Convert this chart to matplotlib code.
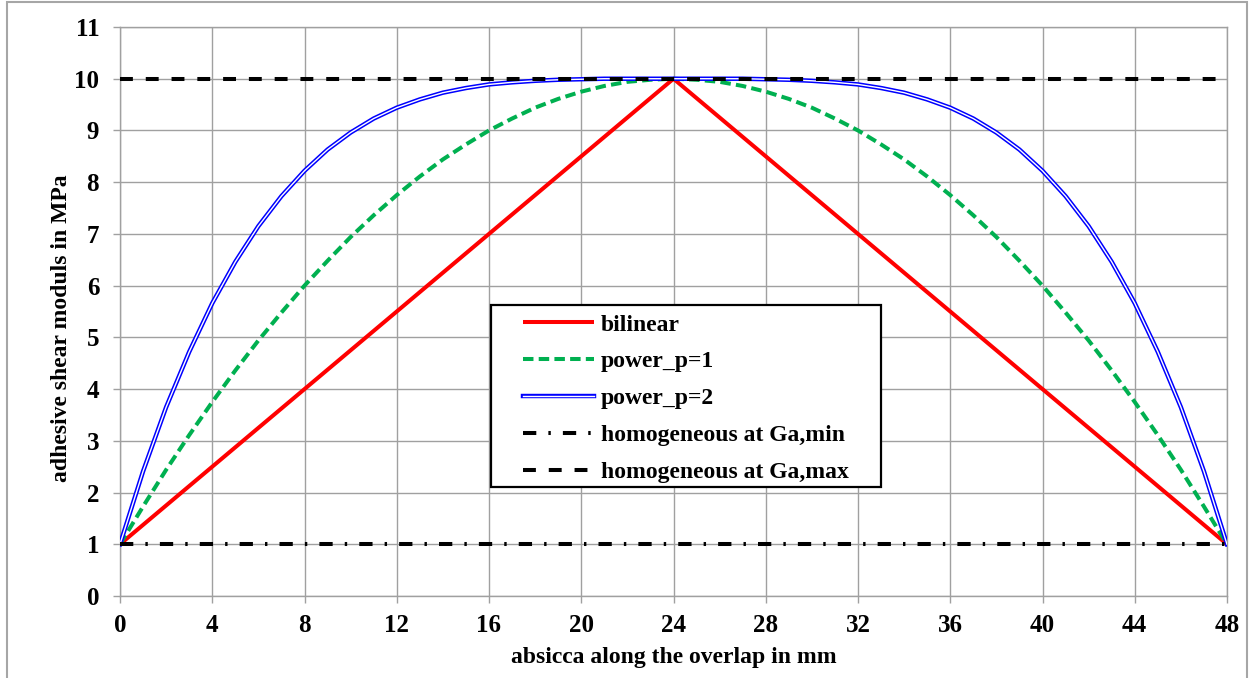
import matplotlib
matplotlib.use("Agg")
import matplotlib.pyplot as plt
import matplotlib.patheffects as pe
from matplotlib.patches import Rectangle

# Overlap coordinate (mm) and adhesive shear modulus values (MPa)
x_mm = list(range(0, 49))

bilinear_x = [0, 24, 48]
bilinear_g = [1.0, 10.0, 1.0]

power_p1 = [1.00, 1.73, 2.44, 3.11, 3.75, 4.36, 4.94, 5.48, 6.00, 6.48, 6.94, 7.36,
            7.75, 8.11, 8.44, 8.73, 9.00, 9.23, 9.44, 9.61, 9.75, 9.86, 9.94, 9.98,
            10.00,
            9.98, 9.94, 9.86, 9.75, 9.61, 9.44, 9.23, 9.00, 8.73, 8.44, 8.11, 7.75,
            7.36, 6.94, 6.48, 6.00, 5.48, 4.94, 4.36, 3.75, 3.11, 2.44, 1.73, 1.00]

power_p2 = [1.00, 2.41, 3.65, 4.72, 5.66, 6.46, 7.15, 7.73, 8.22, 8.63, 8.96, 9.23,
            9.44, 9.60, 9.73, 9.82, 9.89, 9.93, 9.96, 9.98, 9.99, 10.00, 10.00, 10.00,
            10.00,
            10.00, 10.00, 10.00, 9.99, 9.98, 9.96, 9.93, 9.89, 9.82, 9.73, 9.60, 9.44,
            9.23, 8.96, 8.63, 8.22, 7.73, 7.15, 6.46, 5.66, 4.72, 3.65, 2.41, 1.00]

homog_x = [0, 48]
homog_min = [1.0, 1.0]
homog_max = [10.0, 10.0]

x_ticks = list(range(0, 49, 4))
y_ticks = list(range(0, 12))

serif = ["Liberation Serif", "DejaVu Serif"]
plt.rcParams["font.family"] = serif
plt.rcParams["font.weight"] = "bold"

W, H = 1253, 678
fig = plt.figure(figsize=(W / 100, H / 100), dpi=100)

# outer chart border
fig.patches.append(Rectangle((7 / W, -0.01), 1240 / W, 1.01 - 2 / H,
                             transform=fig.transFigure, fill=False,
                             edgecolor="#a6a6a6", linewidth=1.5))

ax = fig.add_axes([120 / W, 1 - 596 / H, 1107 / W, 569 / H])

ax.plot(bilinear_x, bilinear_g, color="#ff0000", linewidth=2.9,
        solid_capstyle="butt", label="bilinear", zorder=3)
ax.plot(x_mm, power_p1, color="#00b050", linewidth=2.9,
        dashes=(2.6, 1.3), label="power_p=1", zorder=4)
ax.plot(x_mm, power_p2, color="white", linewidth=1.0, label="power_p=2", zorder=5,
        path_effects=[pe.Stroke(linewidth=3.2, foreground="#0000ff"), pe.Normal()])
ax.plot(homog_x, homog_min, color="black", linewidth=2.9,
        dashes=(3.3, 3.0, 0.6, 3.0), label="homogeneous at Ga,min", zorder=6)
ax.plot(homog_x, homog_max, color="black", linewidth=2.9,
        dashes=(3.2, 3.2), label="homogeneous at Ga,max", zorder=7)

ax.set_xlim(0, 48)
ax.set_ylim(0, 11)
ax.set_xticks(x_ticks)
ax.set_yticks(y_ticks)
ax.grid(True, color="#a0a0a0", linewidth=1.0, zorder=0)
ax.set_axisbelow(True)
for s in ax.spines.values():
    s.set_color("#a0a0a0")
    s.set_linewidth(1.0)
ax.tick_params(direction="out", length=5, width=1.0, color="#a0a0a0",
               labelsize=18)
ax.tick_params(axis="y", pad=10)
ax.tick_params(axis="x", pad=8)
for lbl in ax.get_xticklabels() + ax.get_yticklabels():
    lbl.set_fontweight("bold")

# axis titles
fig.text(673.5 / W, 1 - 657 / H, "absicca along the overlap in mm",
         fontsize=17, fontweight="bold", ha="center", va="center")
fig.text(62 / W, 1 - 328 / H, "adhesive shear moduls in MPa",
         fontsize=17, fontweight="bold", ha="center", va="center", rotation=90)

# legend box
ax.add_patch(Rectangle((491 / W, 1 - 487 / H), 390 / W, 182 / H,
                       transform=fig.transFigure, facecolor="white",
                       edgecolor="black", linewidth=1.6, zorder=9, clip_on=False))
leg = ax.legend(loc="upper left", bbox_to_anchor=(523 / W, 1 - 314 / H),
                bbox_transform=fig.transFigure, frameon=False,
                borderpad=0.0, borderaxespad=0.0,
                handlelength=3.0, handletextpad=0.3, labelspacing=0.65,
                prop={"family": serif, "weight": "bold", "size": 17})
leg.set_zorder(10)

fig.savefig("out.png", dpi=100)
